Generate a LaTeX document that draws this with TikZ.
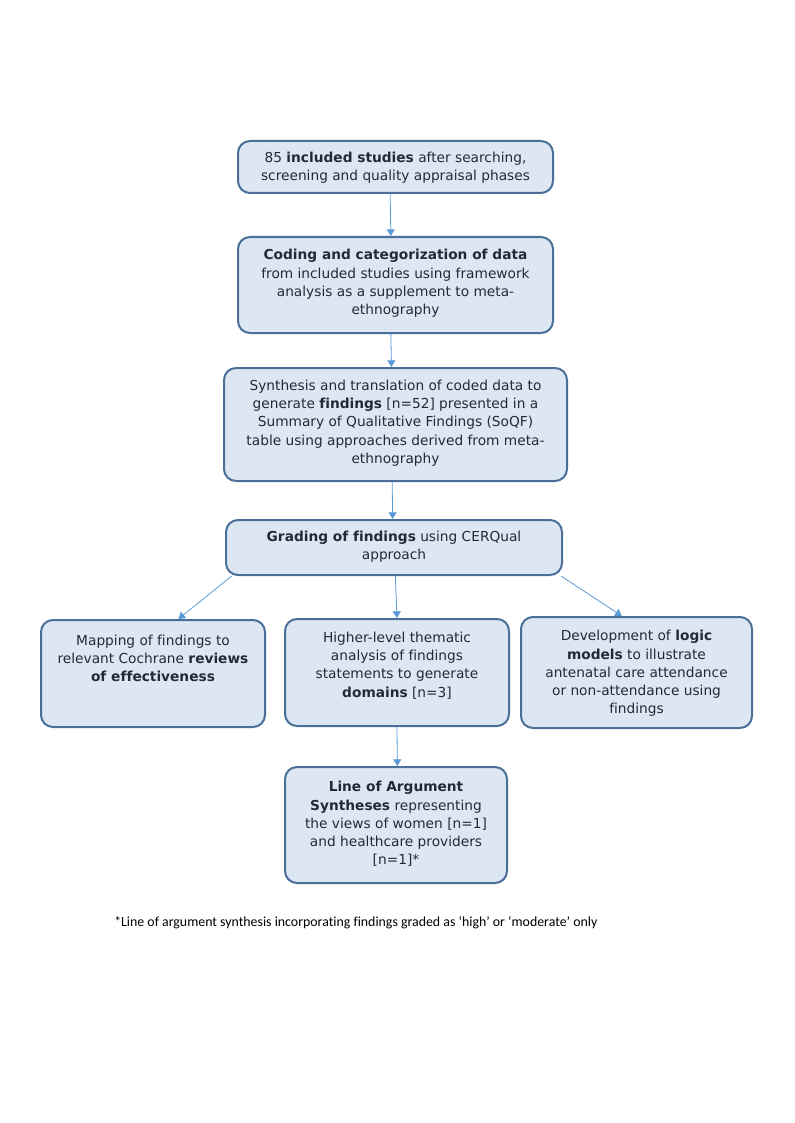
\documentclass[tikz,border=0pt]{standalone}
\usepackage{fontspec}
\setmainfont[Ligatures=NoCommon]{DejaVu Sans}
\newfontfamily\notefont[Ligatures=NoCommon]{Carlito}
\usetikzlibrary{arrows.meta,calc}
\definecolor{boxfill}{HTML}{DDE7F3}
\definecolor{boxline}{HTML}{4A7099}
\definecolor{arrowc}{HTML}{5B9BD5}
\definecolor{txtc}{HTML}{242A33}
\tikzset{
  flowbox/.style={draw=boxline, fill=boxfill, line width=1.5pt, rounded corners=9pt, inner sep=0pt},
  boxtext/.style={text=txtc, align=center, inner sep=0pt, font=\fontsize{10.3}{13.7}\selectfont},
  conn/.style={draw=arrowc, line width=0.6pt, -{Triangle[width=6pt,length=5pt]}},
  notetext/.style={text=black, anchor=west, inner sep=0pt, font=\notefont\fontsize{10.4}{12}\selectfont}
}
\begin{document}
\begin{tikzpicture}[x=0.75pt,y=-0.75pt]
\useasboundingbox (0,0) rectangle (794,1123);
% boxes
\node[flowbox, minimum width=315*0.75pt, minimum height=52*0.75pt] (b1) at (395.5,167) {};
\node[flowbox, minimum width=315*0.75pt, minimum height=96*0.75pt] (b2) at (395.5,285) {};
\node[flowbox, minimum width=343*0.75pt, minimum height=113*0.75pt] (b3) at (395.5,424.5) {};
\node[flowbox, minimum width=336*0.75pt, minimum height=55*0.75pt] (b4) at (394,547.5) {};
\node[flowbox, minimum width=224*0.75pt, minimum height=107*0.75pt] (b5) at (153,673.5) {};
\node[flowbox, minimum width=224*0.75pt, minimum height=107*0.75pt] (b6) at (397,672.5) {};
\node[flowbox, minimum width=231*0.75pt, minimum height=111*0.75pt] (b7) at (636.5,672.5) {};
\node[flowbox, minimum width=222*0.75pt, minimum height=116*0.75pt] (b8) at (396,825) {};
% texts
\node[boxtext] (t1) at (395.5,167.5) {85 \textbf{included studies} after searching,\\ screening and quality appraisal phases};
\node[boxtext] (t2) at (395.5,283.5) {\textbf{Coding and categorization of data}\\ from included studies using framework\\ analysis as a supplement to meta-\\ ethnography};
\node[boxtext] (t3) at (395.5,423) {Synthesis and translation of coded data to\\ generate \textbf{findings} [n=52] presented in a\\ Summary of Qualitative Findings (SoQF)\\ table using approaches derived from meta-\\ ethnography};
\node[boxtext] (t4) at (394,546.5) {\textbf{Grading of findings} using CERQual\\ approach};
\node[boxtext] (t5) at (153,658.5) {Mapping of findings to\\ relevant Cochrane \textbf{reviews}\\ \textbf{of effectiveness}};
\node[boxtext] (t6) at (397,665.5) {Higher-level thematic\\ analysis of findings\\ statements to generate\\ \textbf{domains} [n=3]};
\node[boxtext] (t7) at (636.5,673.5) {Development of \textbf{logic}\\ \textbf{models} to illustrate\\ antenatal care attendance\\ or non-attendance using\\ findings};
\node[boxtext] (t8) at (396,824) {\textbf{Line of Argument}\\ \textbf{Syntheses} representing\\ the views of women {[n=1]}\\ and healthcare providers\\ {[n=1]*}};
% footnote
\node[notetext] (fn) at (114,923) {*Line of argument synthesis incorporating findings graded as ‘high’ or ‘moderate’ only};
% connectors
\draw[conn] ([xshift=-4pt]b1.south) -- ([xshift=-3.5pt]b2.north);
\draw[conn] ([xshift=-3.5pt]b2.south) -- ([xshift=-3pt]b3.north);
\draw[conn] ([xshift=-2.5pt]b3.south) -- ([xshift=-1pt]b4.north);
\draw[conn] ([xshift=5pt]b4.south west) -- ([xshift=19pt]b5.north);
\draw[conn] ([xshift=1pt]b4.south) -- (b6.north);
\draw[conn] ([xshift=-1.5pt]b4.south east) -- ([xshift=-11pt]b7.north);
\draw[conn] (b6.south) -- ([xshift=1pt]b8.north);
\end{tikzpicture}
\end{document}
